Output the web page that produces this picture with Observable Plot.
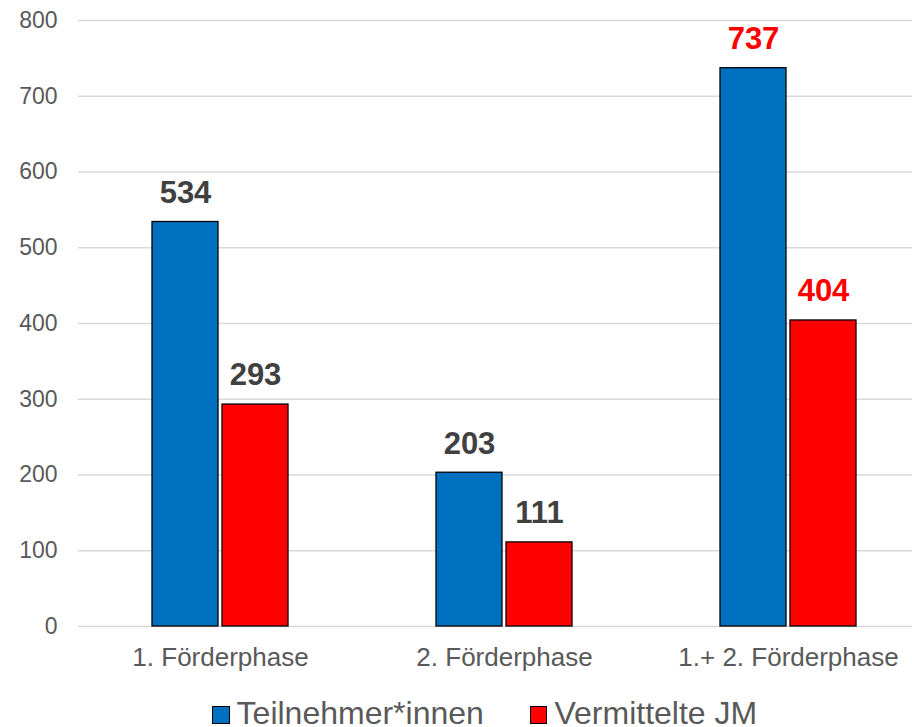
<!DOCTYPE html>
<html>
<head>
<meta charset="utf-8">
<script src="https://cdn.jsdelivr.net/npm/d3@7"></script>
<script src="https://cdn.jsdelivr.net/npm/@observablehq/plot@0.6"></script>
<style>
  html, body { margin: 0; padding: 0; background: #fff; }
  body { width: 912px; font-family: "Liberation Sans", Arial, sans-serif; }
  #legend { height: 34px; line-height: 34px; font-size: 32px; color: #595959; padding-left: 212px; white-space: nowrap; display: flex; }
  #legend .item { margin-right: 46px; }
  #legend .sw { display: inline-block; box-sizing: border-box; width: 17.6px; height: 17.6px; border: 1.5px solid #000; margin-right: 7px; vertical-align: baseline; }
</style>
</head>
<body>
<div id="chart"></div>
<div id="legend"></div>
<script>
const categories = ["1. Förderphase", "2. Förderphase", "1.+ 2. Förderphase"];
const series = ["Teilnehmer*innen", "Vermittelte JM"];
const teilnehmer = [534, 203, 737];
const vermittelte = [293, 111, 404];
const seriesColors = ["#0070C0", "#FF0000"];
const labelColors = ["#404040", "#404040", "#FF0000"];
const yTicks = [0, 100, 200, 300, 400, 500, 600, 700, 800];

const seriesValues = [teilnehmer, vermittelte];
const rows = [];
categories.forEach((c, i) => {
  series.forEach((s, j) => {
    rows.push({category: c, series: s, value: seriesValues[j][i], labelColor: labelColors[i]});
  });
});

const labelMarks = Array.from(new Set(labelColors)).map(col =>
  Plot.text(rows, {
    filter: d => d.labelColor === col,
    fx: "category", x: "series", y: "value",
    text: d => String(d.value),
    dy: -29, fill: col, fontSize: 31, fontWeight: "bold"
  })
);

const chart = Plot.plot({
  width: 912,
  height: 696,
  marginLeft: 77,
  marginRight: 0,
  marginTop: 20,
  marginBottom: 70,
  style: {fontFamily: "Liberation Sans, Arial, sans-serif", background: "#fff"},
  fx: {domain: categories, range: [77, 930], padding: 0},
  x: {domain: series, paddingInner: 0.057, paddingOuter: 1.043, align: 0.5, axis: null},
  y: {domain: [0, 800]},
  color: {domain: series, range: seriesColors},
  marks: [
    Plot.gridY({ticks: yTicks, stroke: "#d9d9d9", strokeOpacity: 1, strokeWidth: 1.5}),
    Plot.axisY({ticks: yTicks, tickSize: 0, tickPadding: 21, fontSize: 23, fill: "#595959", label: null}),
    Plot.axisFx({anchor: "bottom", tickSize: 0, tickPadding: 21, fontSize: 26, fill: "#595959", label: null}),
    Plot.barY(rows, {fx: "category", x: "series", y: "value", fill: "series", stroke: "#000", strokeWidth: 1.3}),
    ...labelMarks
  ]
});
document.getElementById("chart").appendChild(chart);

const legend = document.getElementById("legend");
series.forEach((s, j) => {
  const item = document.createElement("span");
  item.className = "item";
  const sw = document.createElement("span");
  sw.className = "sw";
  sw.style.background = seriesColors[j];
  item.appendChild(sw);
  item.appendChild(document.createTextNode(s));
  legend.appendChild(item);
});
</script>
</body>
</html>
